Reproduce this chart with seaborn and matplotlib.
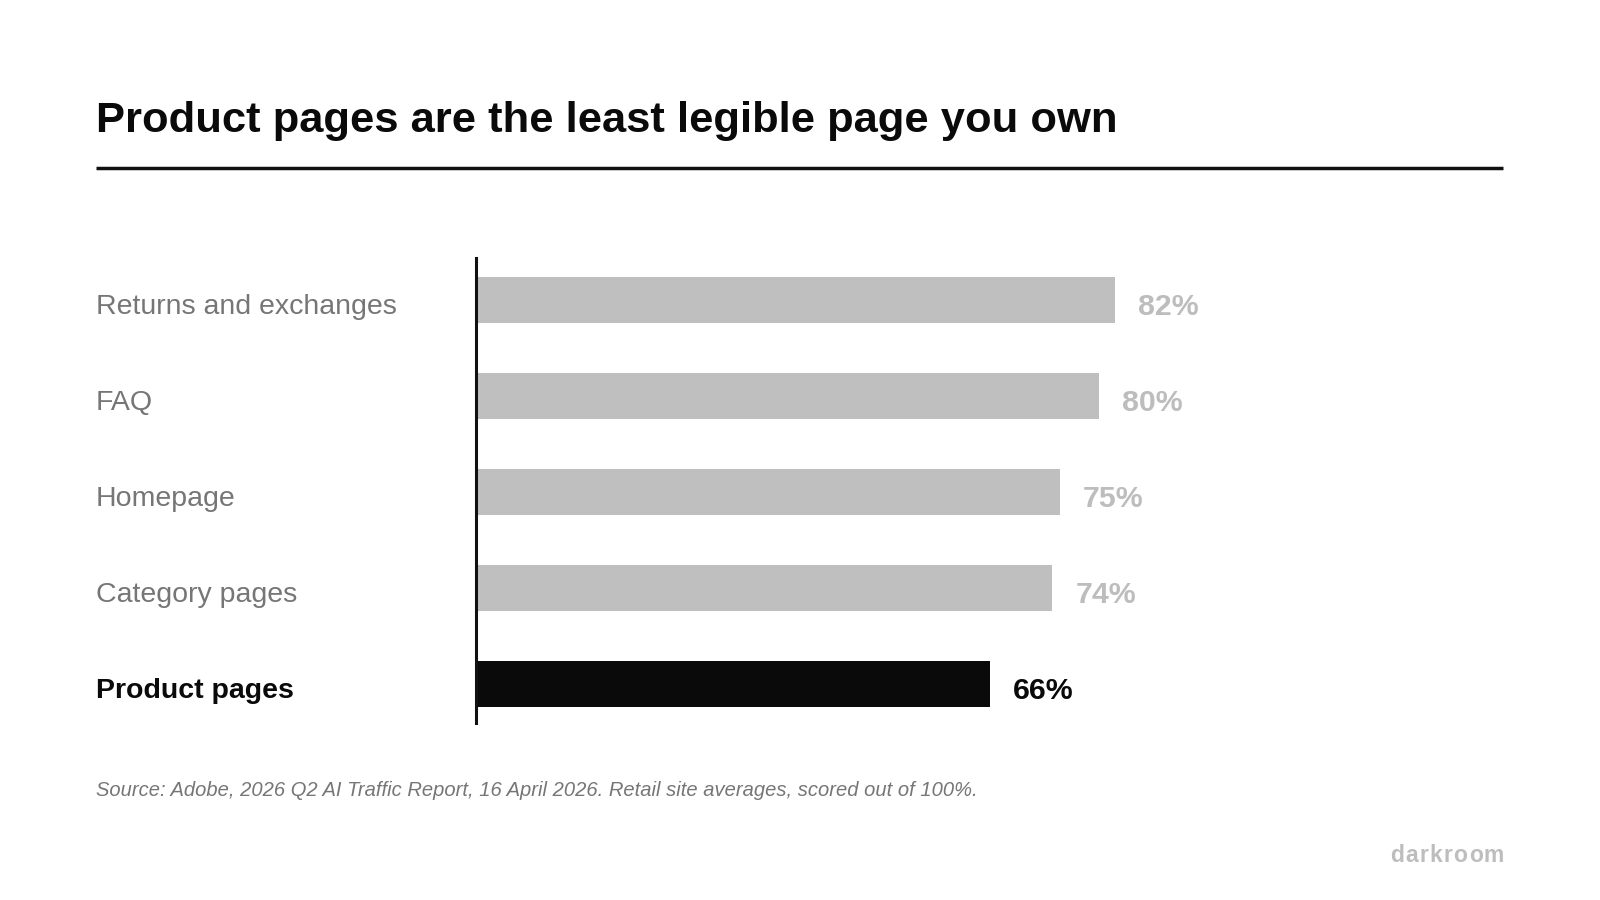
import matplotlib
matplotlib.use("Agg")
import matplotlib.pyplot as plt
import matplotlib.transforms as mtransforms
from matplotlib.lines import Line2D
import seaborn as sns
import pandas as pd

# ---- data ----
pages = ["Returns and exchanges", "FAQ", "Homepage", "Category pages", "Product pages"]
scores = [82, 80, 75, 74, 66]
highlight = "Product pages"
title = "Product pages are the least legible page you own"
source = "Source: Adobe, 2026 Q2 AI Traffic Report, 16 April 2026. Retail site averages, scored out of 100%."
brand = "darkroom"

GREY_BAR = "#bfbfbf"
GREY_VAL = "#bdbdbd"
GREY_LBL = "#767676"
BLACK = "#0a0a0a"

sns.set_theme(style="white")
plt.rcParams["font.family"] = ["Liberation Sans", "DejaVu Sans"]

df = pd.DataFrame({"page": pages, "score": scores})
palette = {p: (BLACK if p == highlight else GREY_BAR) for p in pages}

fig = plt.figure(figsize=(16, 9), dpi=100)
fig.patch.set_facecolor("white")
ax = fig.add_axes([476 / 1600, 1 - 723 / 900, 779 / 1600, 465 / 900])

sns.barplot(data=df, x="score", y="page", hue="page", order=pages, hue_order=pages,
            palette=palette, orient="h", width=0.48, legend=False, ax=ax,
            saturation=1, linewidth=0)

ax.set_xlim(0, 100)
ax.set_ylim(4.406, -0.4375)
ax.set_xlabel("")
ax.set_ylabel("")
ax.set_xticks([])
ax.set_yticks([])
for s in ["top", "right", "bottom"]:
    ax.spines[s].set_visible(False)
ax.spines["left"].set_color("#111111")
ax.spines["left"].set_linewidth(2.2)
ax.set_facecolor("none")

# category labels (left, in figure x / data y)
lbl_tr = mtransforms.blended_transform_factory(fig.transFigure, ax.transData)
down = mtransforms.ScaledTranslation(0, -10.4 / 72, fig.dpi_scale_trans)
for i, (p, v) in enumerate(zip(pages, scores)):
    hl = p == highlight
    ax.text(96 / 1600, i, p, transform=lbl_tr + down, ha="left", va="baseline",
            fontsize=20.5, color=BLACK if hl else GREY_LBL,
            fontweight="bold" if hl else "normal")
    off = mtransforms.ScaledTranslation(16.5 / 72, -10.6 / 72, fig.dpi_scale_trans)
    ax.text(v, i, f"{v}%", transform=ax.transData + off, ha="left", va="baseline",
            fontsize=21.8, fontweight="bold", color=BLACK if hl else GREY_VAL)

# title and rule
fig.text(96 / 1600, 1 - 131.7 / 900, title, ha="left", va="baseline",
         fontsize=31.3, fontweight="bold", color=BLACK)
fig.add_artist(Line2D([96 / 1600, 1503 / 1600], [1 - 167.5 / 900] * 2,
                      transform=fig.transFigure, color="#111111", lw=2.5,
                      solid_capstyle="butt"))

# source
fig.text(96 / 1600, 1 - 796 / 900, source, ha="left", va="baseline",
         fontsize=14.5, fontstyle="italic", color=GREY_LBL)

# brand mark with letter spacing (drawn char by char, right aligned)
renderer = fig.canvas.get_renderer()
spacing_px = 1.2
widths = []
for ch in brand:
    t = fig.text(0, 0, ch, fontsize=16.5, fontweight="bold")
    widths.append(t.get_window_extent(renderer).width)
    t.remove()
total = sum(widths) + spacing_px * (len(brand) - 1)
x = 1504 - total
for ch, w in zip(brand, widths):
    fig.text(x / 1600, 1 - 861.7 / 900, ch, ha="left", va="baseline",
             fontsize=16.5, fontweight="bold", color=GREY_VAL)
    x += w + spacing_px

fig.savefig("out.png", dpi=100, facecolor="white")
